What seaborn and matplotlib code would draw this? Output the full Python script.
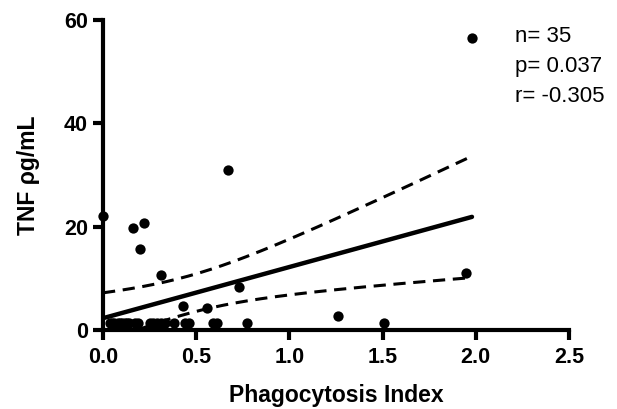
import numpy as np
import pandas as pd
import matplotlib
matplotlib.use("Agg")
import matplotlib.pyplot as plt
import seaborn as sns

# Data
phago = [0.00, 0.16, 0.22, 0.20, 0.31, 0.73, 0.43, 0.56, 1.26, 1.51, 1.95, 1.98, 0.67,
         0.04, 0.06, 0.08, 0.10, 0.12, 0.14, 0.17, 0.19,
         0.25, 0.27, 0.29, 0.31, 0.33, 0.38, 0.44, 0.46, 0.59, 0.61, 0.77,
         0.05, 0.09, 0.13]
tnf = [22.0, 19.8, 20.8, 15.6, 10.6, 8.4, 4.6, 4.3, 2.8, 1.3, 11.1, 56.5, 31.0,
       1.3, 1.3, 1.3, 1.3, 1.3, 1.3, 1.3, 1.3,
       1.3, 1.3, 1.3, 1.3, 1.3, 1.3, 1.3, 1.3, 1.3, 1.3, 1.3,
       1.3, 1.3, 1.3]
stats_text = ["n= 35", "p= 0.037", "r= -0.305"]
x_ticks = [0.0, 0.5, 1.0, 1.5, 2.0, 2.5]
y_ticks = [0, 20, 40, 60]

df = pd.DataFrame({"x": phago, "y": tnf})

# Linear fit and 95% confidence band of the regression line
x = np.asarray(phago); y = np.asarray(tnf)
n = len(x)
slope, intercept = np.polyfit(x, y, 1)
resid = y - (slope * x + intercept)
s = np.sqrt(np.sum(resid ** 2) / (n - 2))
tval = 2.0345
xs = np.linspace(x.min(), x.max(), 200)
fit = slope * xs + intercept
se = s * np.sqrt(1 / n + (xs - x.mean()) ** 2 / np.sum((x - x.mean()) ** 2))
band = pd.DataFrame({"x": xs, "fit": fit, "lo": fit - tval * se, "hi": fit + tval * se})

sns.set_style("ticks", {"axes.edgecolor": "black", "text.color": "black",
                        "xtick.color": "black", "ytick.color": "black",
                        "axes.labelcolor": "black"})
plt.rcParams["font.family"] = ["Liberation Sans", "DejaVu Sans"]

fig = plt.figure(figsize=(6.17, 4.09), dpi=100)
ax = fig.add_axes([0.167, 0.193, 0.755, 0.758])

sns.scatterplot(data=df, x="x", y="y", color="black", s=55, edgecolor="black",
                linewidth=0, ax=ax, clip_on=False, zorder=3)
sns.lineplot(data=band, x="x", y="fit", color="black", lw=3.2, ax=ax)
sns.lineplot(data=band, x="x", y="lo", color="black", lw=2.2, ax=ax)
sns.lineplot(data=band, x="x", y="hi", color="black", lw=2.2, ax=ax)
ax.lines[1].set_linestyle((0, (4, 2.5)))
ax.lines[2].set_linestyle((0, (4, 2.5)))

ax.set_xlim(0, 2.5)
ax.set_ylim(0, 60)
ax.set_xticks(x_ticks)
ax.set_xticklabels([f"{t:.1f}" for t in x_ticks])
ax.set_yticks(y_ticks)
ax.set_yticklabels([str(t) for t in y_ticks])
for sp in ["top", "right"]:
    ax.spines[sp].set_visible(False)
for sp in ["left", "bottom"]:
    ax.spines[sp].set_linewidth(3)
    ax.spines[sp].set_color("black")
ax.tick_params(width=3, length=7, labelsize=15.5, direction="out", pad=4,
               color="black", labelcolor="black")
ax.tick_params(axis="x", pad=5)
for lab in ax.get_xticklabels() + ax.get_yticklabels():
    lab.set_fontweight("bold")
ax.set_xlabel("Phagocytosis Index", fontsize=16.5, fontweight="bold", labelpad=12,
              color="black")
ax.set_ylabel("TNF ρg/mL", fontsize=16.5, fontweight="bold", labelpad=17,
              color="black")

ax.text(0.884, 0.98, "\n".join(stats_text), transform=ax.transAxes, fontsize=16,
        va="top", ha="left", linespacing=1.55, color="black")

fig.savefig("out.png", dpi=100)
